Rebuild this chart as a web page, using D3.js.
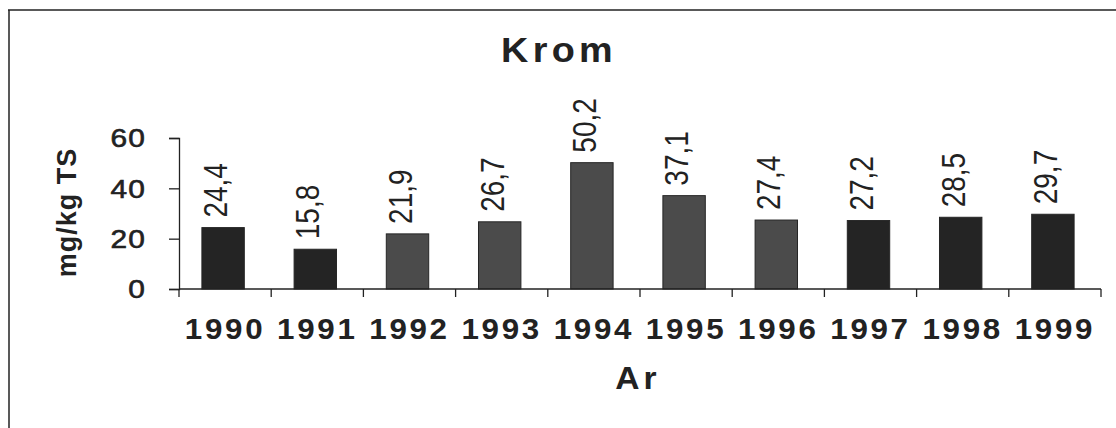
<!DOCTYPE html>
<html>
<head>
<meta charset="utf-8">
<script src="https://cdn.jsdelivr.net/npm/d3@7"></script>
<style>
  html, body { margin: 0; padding: 0; background: #ffffff; }
  svg { display: block; }
  text { font-family: "Liberation Sans", Arial, sans-serif; fill: #222; }
</style>
</head>
<body>
<svg id="chart" width="1116" height="428"></svg>
<script>
// ---- data ----
const years = ["1990","1991","1992","1993","1994","1995","1996","1997","1998","1999"];
const values = [24.4, 15.8, 21.9, 26.7, 50.2, 37.1, 27.4, 27.2, 28.5, 29.7];
const valueLabels = ["24,4","15,8","21,9","26,7","50,2","37,1","27,4","27,2","28,5","29,7"];
const shade = ["dark","dark","gray","gray","gray","gray","gray","dark","dark","dark"];
const yTicks = [0, 20, 40, 60];
const title = "Krom";
const xTitle = "Ar";
const yTitle = "mg/kg TS";

// ---- layout ----
const W = 1116, H = 428;
const plot = { left: 179, right: 1101, top: 138, bottom: 289 };
const SX = 1.2; // horizontal stretch of the scanned text

const svg = d3.select("#chart");

// frame (top and left edges)
svg.append("line").attr("x1", 8).attr("x2", W).attr("y1", 10).attr("y2", 10)
  .attr("stroke", "#222").attr("stroke-width", 1.5);
svg.append("line").attr("x1", 9).attr("x2", 9).attr("y1", 10).attr("y2", H)
  .attr("stroke", "#222").attr("stroke-width", 1.5);

const x = d3.scaleBand().domain(years).range([plot.left, plot.right])
  .paddingInner(0.54).paddingOuter(0.27);
const y = d3.scaleLinear().domain([0, 60]).range([plot.bottom, plot.top]);

const colorOf = { dark: "#242424", gray: "#4b4b4b" };

// bars
svg.append("g").selectAll("rect").data(years).join("rect")
  .attr("x", d => x(d) - 2)
  .attr("y", (d, i) => y(values[i]))
  .attr("width", x.bandwidth())
  .attr("height", (d, i) => y(0) - y(values[i]))
  .attr("fill", (d, i) => colorOf[shade[i]])
  .attr("stroke", "#262626").attr("stroke-width", 1);

// y axis
const yAxis = d3.axisLeft(y).tickValues(yTicks).tickSize(10).tickFormat("");
const gy = svg.append("g").attr("transform", `translate(${plot.left},0)`).call(yAxis);
gy.select(".domain").attr("stroke", "#222").attr("stroke-width", 1.3);
gy.selectAll(".tick line").attr("stroke", "#222").attr("stroke-width", 1.3);

// y tick labels
svg.append("g").selectAll("text").data(yTicks).join("text")
  .attr("transform", d => `translate(146,${y(d)}) scale(1.15,1)`)
  .attr("text-anchor", "end").attr("dy", "0.36em")
  .style("font-size", "26px").style("letter-spacing", "1px")
  .style("stroke", "#222").style("stroke-width", "0.6px")
  .text(d => d);

// x axis line
svg.append("line").attr("x1", plot.left).attr("x2", plot.right)
  .attr("y1", y(0)).attr("y2", y(0)).attr("stroke", "#222").attr("stroke-width", 1.3);

// x ticks at category boundaries
const step = x.step();
const bounds = years.map(d => x(d) - (step - x.bandwidth()) / 2).concat([plot.right]);
svg.append("g").selectAll("line").data(bounds).join("line")
  .attr("x1", d => d).attr("x2", d => d)
  .attr("y1", y(0)).attr("y2", y(0) + 8)
  .attr("stroke", "#222").attr("stroke-width", 1.3);

// x tick labels
svg.append("g").selectAll("text").data(years).join("text")
  .attr("transform", d => `translate(${x(d) + x.bandwidth() / 2},339) scale(1.08,1)`)
  .attr("text-anchor", "middle")
  .style("font-size", "29px").style("font-weight", "bold").style("letter-spacing", "2.5px")
  .text(d => d);

// value labels (rotated)
svg.append("g").selectAll("text").data(years).join("text")
  .attr("transform", (d, i) =>
    `translate(${x(d) + x.bandwidth() / 2 + 2},${y(values[i]) - 10}) scale(${SX},1) rotate(-90)`)
  .attr("text-anchor", "start")
  .style("font-size", "28px")
  .text((d, i) => valueLabels[i]);

// title
svg.append("text")
  .attr("transform", `translate(559,62) scale(1.08,1)`)
  .attr("text-anchor", "middle")
  .style("font-size", "35px").style("font-weight", "bold").style("letter-spacing", "4px")
  .text(title);

// x axis title
svg.append("text")
  .attr("transform", `translate(638,389) scale(1.05,1)`)
  .attr("text-anchor", "middle")
  .style("font-size", "32px").style("font-weight", "bold").style("letter-spacing", "4px")
  .text(xTitle);

// y axis title (rotated)
svg.append("text")
  .attr("transform", `translate(76,${(148 + 277) / 2}) scale(1.05,1) rotate(-90)`)
  .attr("text-anchor", "middle")
  .style("font-size", "27px").style("font-weight", "bold").style("letter-spacing", "1px")
  .text(yTitle);
</script>
</body>
</html>
